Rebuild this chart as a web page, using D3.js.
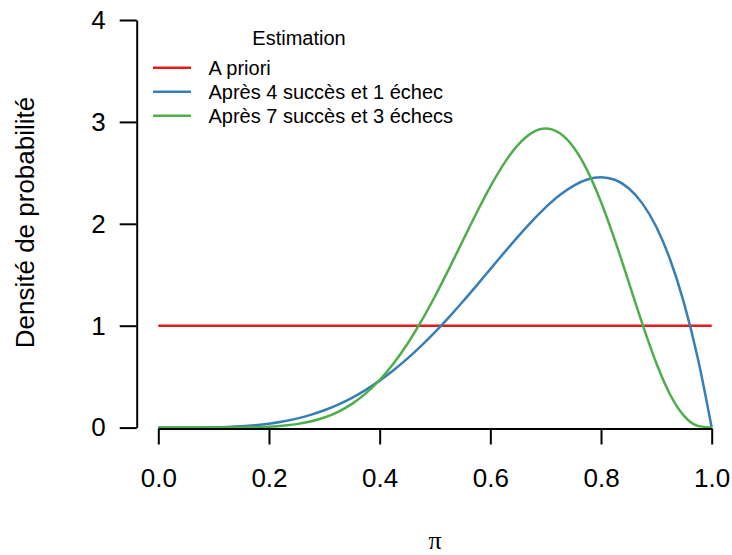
<!DOCTYPE html>
<html>
<head>
<meta charset="utf-8">
<script src="https://cdn.jsdelivr.net/npm/d3@7"></script>
<style>
  body { margin: 0; background: #fff; }
  text { font-family: "Liberation Sans", Arial, sans-serif; fill: #000; }
</style>
</head>
<body>
<div class="root"></div>
<script>
// valeurs de pi (abscisse)
const piValues = [0, 0.025, 0.05, 0.075, 0.1, 0.125, 0.15, 0.175, 0.2, 0.225, 0.25,
  0.275, 0.3, 0.325, 0.35, 0.375, 0.4, 0.425, 0.45, 0.475, 0.5,
  0.525, 0.55, 0.575, 0.6, 0.625, 0.65, 0.675, 0.7, 0.725, 0.75,
  0.775, 0.8, 0.825, 0.85, 0.875, 0.9, 0.925, 0.95, 0.975, 1];
const aPriori = [1, 1, 1, 1, 1, 1, 1, 1, 1, 1, 1,
  1, 1, 1, 1, 1, 1, 1, 1, 1, 1,
  1, 1, 1, 1, 1, 1, 1, 1, 1, 1,
  1, 1, 1, 1, 1, 1, 1, 1, 1, 1];
const apres4s1e = [0, 0, 0.0002, 0.0009, 0.0027, 0.0064, 0.0129, 0.0232, 0.0384, 0.0596, 0.0879,
  0.1244, 0.1701, 0.2259, 0.2926, 0.3708, 0.4608, 0.5628, 0.6766, 0.8018, 0.9375,
  1.0826, 1.2353, 1.3937, 1.5552, 1.7166, 1.8743, 2.024, 2.1609, 2.2793, 2.373,
  2.4351, 2.4576, 2.4321, 2.349, 2.1982, 1.9683, 1.6472, 1.2218, 0.6778, 0];
const apres7s3e = [0, 0, 0, 0, 0.0001, 0.0004, 0.0014, 0.0037, 0.0087, 0.0179, 0.034,
  0.0598, 0.099, 0.1555, 0.2332, 0.3361, 0.4671, 0.6285, 0.8206, 1.0421, 1.2891,
  1.5551, 1.8312, 2.1058, 2.3649, 2.5931, 2.7744, 2.893, 2.9351, 2.8903, 2.7531,
  2.5249, 2.2146, 1.8402, 1.4282, 1.0124, 0.6314, 0.3227, 0.1152, 0.0173, 0];

const seriesNames = ["A priori", "Après 4 succès et 1 échec", "Après 7 succès et 3 échecs"];
const seriesValues = [aPriori, apres4s1e, apres7s3e];
const seriesColors = ["#E41A1C", "#377EB8", "#4DAF4A"];

const xTicks = [0, 0.2, 0.4, 0.6, 0.8, 1];
const yTicks = [0, 1, 2, 3, 4];

const width = 732;
const height = 555;

const svg = d3.select("div.root")
  .append("svg")
  .attr("width", width)
  .attr("height", height);

const x = d3.scaleLinear().domain([0, 1]).range([158.3, 711.7]);
const y = d3.scaleLinear().domain([0, 4]).range([427.6, 20]);

// courbes
const line = d3.line()
  .x(d => x(d[0]))
  .y(d => y(d[1]))
  .curve(d3.curveMonotoneX);

seriesValues.forEach((vals, k) => {
  svg.append("path")
    .datum(piValues.map((p, i) => [p, vals[i]]))
    .attr("d", line)
    .attr("fill", "none")
    .attr("stroke", seriesColors[k])
    .attr("stroke-width", 2.5);
});

// axe x
const xAxis = d3.axisBottom(x)
  .tickValues(xTicks)
  .tickFormat(d3.format(".1f"))
  .tickSize(16)
  .tickSizeOuter(0)
  .tickPadding(24);
const gx = svg.append("g")
  .attr("transform", `translate(0,${428.5})`)
  .call(xAxis);
gx.select(".domain").attr("stroke-width", 2);
gx.selectAll(".tick line").attr("stroke-width", 2);
gx.selectAll(".tick text").attr("font-size", 26).attr("font-family", "Liberation Sans, Arial, sans-serif");

// axe y
const yAxis = d3.axisLeft(y)
  .tickValues(yTicks)
  .tickFormat(d3.format("d"))
  .tickSize(17)
  .tickSizeOuter(0)
  .tickPadding(14);
const gy = svg.append("g")
  .attr("transform", `translate(${136.7},0)`)
  .call(yAxis);
gy.select(".domain").attr("stroke-width", 2);
gy.selectAll(".tick line").attr("stroke-width", 2);
gy.selectAll(".tick text").attr("font-size", 26).attr("font-family", "Liberation Sans, Arial, sans-serif");

// titres des axes
svg.append("text")
  .attr("x", 435)
  .attr("y", 549)
  .attr("text-anchor", "middle")
  .attr("font-size", 26)
  .style("font-family", "'Liberation Serif', 'DejaVu Serif', serif")
  .text("π");

svg.append("text")
  .attr("transform", `translate(34,${222.5}) rotate(-90)`)
  .attr("text-anchor", "middle")
  .attr("font-size", 26)
  .text("Densité de probabilité");

// légende
const legend = svg.append("g");
legend.append("text")
  .attr("x", 299)
  .attr("y", 44.5)
  .attr("text-anchor", "middle")
  .attr("font-size", 20)
  .text("Estimation");

seriesNames.forEach((name, k) => {
  const ly = 67.7 + k * 24;
  legend.append("line")
    .attr("x1", 153).attr("x2", 191)
    .attr("y1", ly).attr("y2", ly)
    .attr("stroke", seriesColors[k])
    .attr("stroke-width", 2.5);
  legend.append("text")
    .attr("x", 208.5)
    .attr("y", ly)
    .attr("dy", "0.35em")
    .attr("font-size", 20)
    .text(name);
});
</script>
</body>
</html>
